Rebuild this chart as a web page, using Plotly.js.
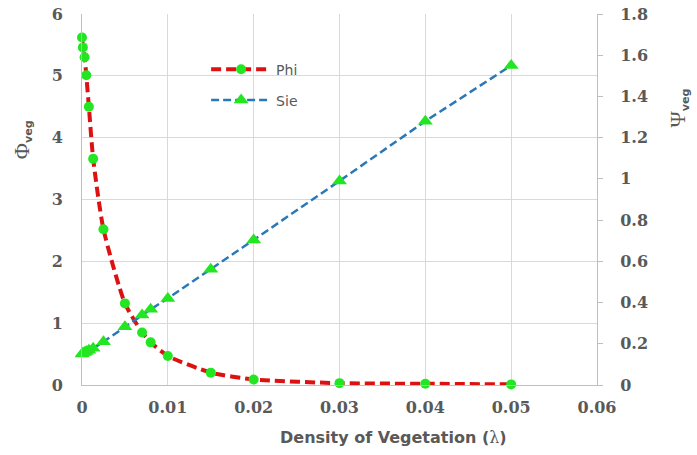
<!DOCTYPE html>
<html><head><meta charset="utf-8">
<script src="https://cdn.plot.ly/plotly-3.0.1.min.js"></script>
<style>html,body{margin:0;padding:0;background:#fff}</style>
</head><body><div id="chart" style="width:697px;height:455px"></div>
<script>
const lambda = [0, 0.0001, 0.0003, 0.0005, 0.0008, 0.0013, 0.0025, 0.005, 0.007, 0.008, 0.01, 0.015, 0.02, 0.03, 0.04, 0.05];
const phi    = [5.62, 5.46, 5.30, 5.01, 4.50, 3.66, 2.52, 1.32, 0.85, 0.69, 0.47, 0.20, 0.09, 0.03, 0.02, 0.01];
const sie    = [0.15, 0.155, 0.158, 0.162, 0.168, 0.178, 0.21, 0.283, 0.34, 0.367, 0.42, 0.561, 0.704, 0.99, 1.28, 1.55];
const xTicks = [0, 0.01, 0.02, 0.03, 0.04, 0.05, 0.06];
const xTickText = ['0', '0.01', '0.02', '0.03', '0.04', '0.05', '0.06'];

const gray = '#595959';
const tickFont = {family: 'DejaVu Serif', size: 16, color: gray, weight: 'bold'};
const green = '#22e622';

const traces = [
  {x: lambda, y: phi, name: 'Phi', type: 'scatter', mode: 'lines+markers', yaxis: 'y', legend: 'legend',
   line: {color: '#dd1111', width: 4, dash: '10px,5px', shape: 'spline', smoothing: 0.6},
   marker: {color: green, size: 10, symbol: 'circle'}, cliponaxis: false},
  {x: lambda, y: sie, name: 'Sie', type: 'scatter', mode: 'lines+markers', yaxis: 'y2', legend: 'legend2',
   line: {color: '#2a78b8', width: 2.5, dash: '8px,4px'},
   marker: {color: green, size: 13, symbol: 'triangle-up'}, cliponaxis: false}
];

const layout = {
  width: 697, height: 455,
  margin: {l: 82, r: 100, t: 14, b: 70},
  paper_bgcolor: '#fff', plot_bgcolor: '#fff',
  showlegend: true,
  xaxis: {range: [0, 0.06], tickvals: xTicks, ticktext: xTickText, showgrid: true, gridcolor: '#d9d9d9', gridwidth: 1,
          showline: true, linecolor: '#bfbfbf', linewidth: 1, zeroline: false, ticks: '', tickfont: tickFont,
          ticklabelstandoff: 8},
  yaxis: {range: [0, 6], dtick: 1, showgrid: true, gridcolor: '#d9d9d9', showline: true, linecolor: '#bfbfbf',
          zeroline: false, ticks: '', tickfont: tickFont, ticklabelstandoff: 15},
  yaxis2: {range: [0, 1.8], dtick: 0.2, overlaying: 'y', side: 'right', showgrid: false, showline: true,
           linecolor: '#bfbfbf', zeroline: false, ticks: 'outside', ticklen: 5, tickcolor: '#bfbfbf',
           tickfont: tickFont, ticklabelstandoff: 14},
  legend: {x: 0.241, xanchor: 'left', y: 0.85, yanchor: 'middle', bgcolor: 'rgba(0,0,0,0)', itemwidth: 60,
           font: {family: 'DejaVu Sans', size: 14, color: gray}},
  legend2: {x: 0.241, xanchor: 'left', y: 0.767, yanchor: 'middle', bgcolor: 'rgba(0,0,0,0)', itemwidth: 60,
           font: {family: 'DejaVu Sans', size: 14, color: gray}},
  annotations: [
    {xref: 'paper', yref: 'paper', x: 0.605, y: 0, yshift: -52, showarrow: false, xanchor: 'center', yanchor: 'middle',
     text: 'Density of Vegetation (<span style="font-family:DejaVu Serif;font-weight:normal">λ</span>)',
     font: {family: 'DejaVu Sans', size: 16, color: gray, weight: 'bold'}},
    {xref: 'paper', yref: 'paper', x: 0, xshift: -60, y: 0.66, showarrow: false, textangle: -90, xanchor: 'center', yanchor: 'middle',
     text: '<span style="font-family:Liberation Serif;font-size:22px">Φ</span><sub><b>veg</b></sub>',
     font: {family: 'DejaVu Sans', size: 16, color: gray}},
    {xref: 'paper', yref: 'paper', x: 1, xshift: 81, y: 0.745, showarrow: false, textangle: -90, xanchor: 'center', yanchor: 'middle',
     text: '<span style="font-family:Liberation Serif;font-size:22px">Ψ</span><sub><b>veg</b></sub>',
     font: {family: 'DejaVu Sans', size: 16, color: gray}}
  ]
};

Plotly.newPlot('chart', traces, layout, {displayModeBar: false, staticPlot: true});
</script></body></html>
